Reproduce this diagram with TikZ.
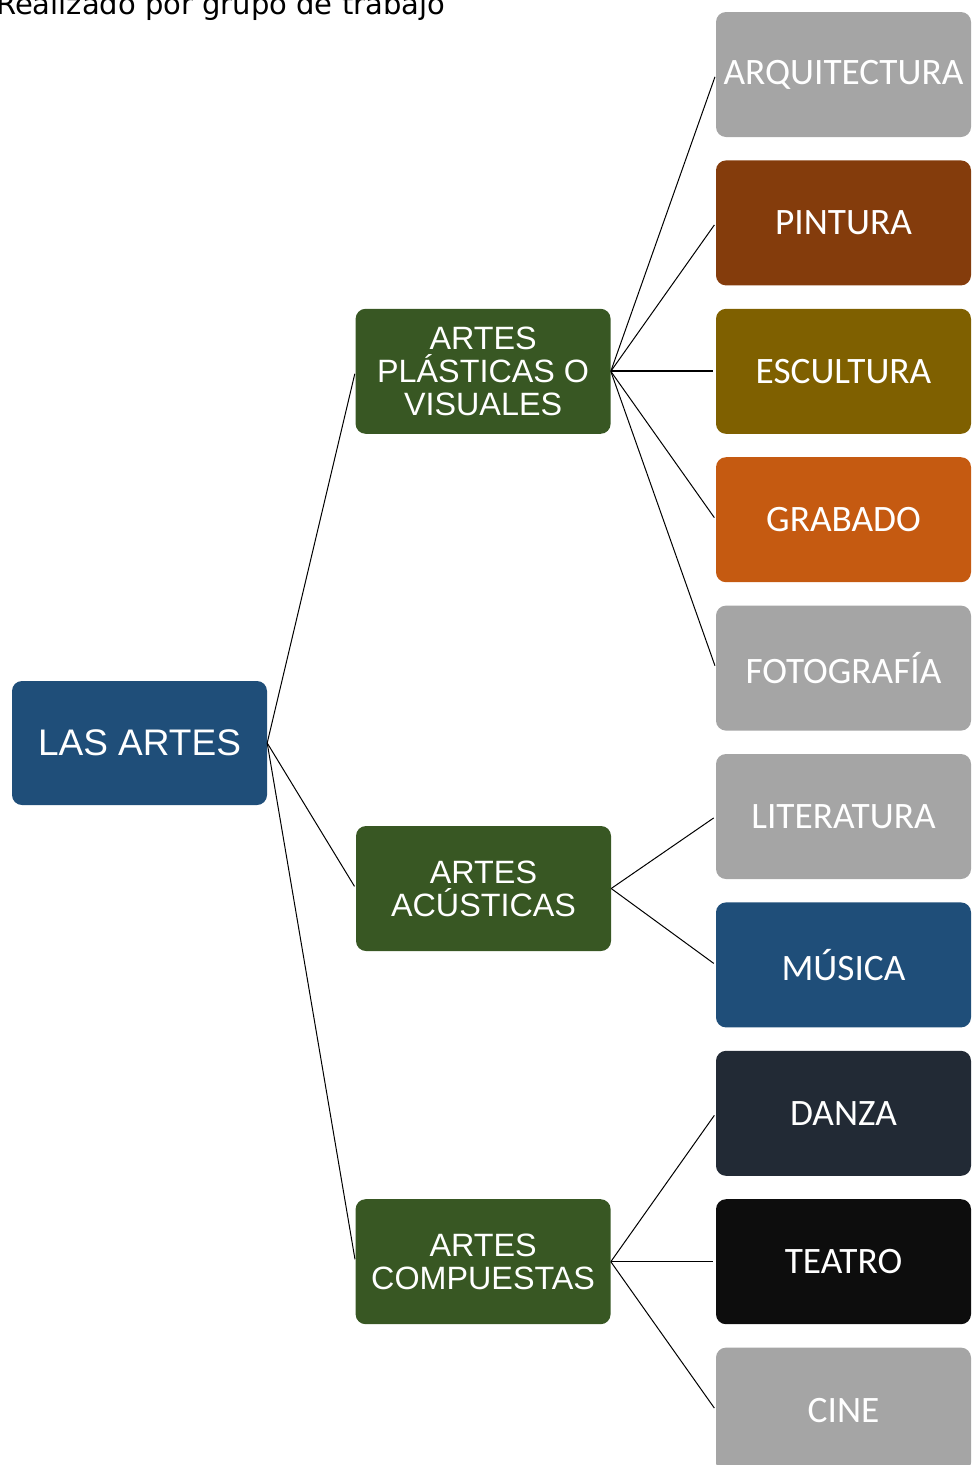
\documentclass[tikz,border=0pt]{standalone}
\usepackage{fontspec}
\setmainfont{Liberation Sans}
\newfontfamily\leaffont{Carlito}
\newfontfamily\notefont{DejaVu Sans}
\usetikzlibrary{positioning}

\definecolor{rootblue}{HTML}{1F4E79}
\definecolor{groupgreen}{HTML}{385723}
\definecolor{artgray}{HTML}{A5A5A5}
\definecolor{pinturabrown}{HTML}{843C0C}
\definecolor{esculturaolive}{HTML}{7F6000}
\definecolor{grabadoorange}{HTML}{C55A11}
\definecolor{danzaslate}{HTML}{222A35}
\definecolor{teatroblack}{HTML}{0D0D0D}

\begin{document}
\begin{tikzpicture}[x=1pt,y=-1pt,
        artbox/.style={rectangle, rounded corners=10pt, minimum width=255pt, minimum height=125pt, inner sep=0pt, text=white, align=center},
        rootnode/.style={artbox, fill=rootblue, minimum height=124pt, font=\fontsize{37}{43}\selectfont},
        groupnode/.style={artbox, fill=groupgreen, font=\fontsize{32.3}{33}\selectfont},
        leafnode/.style={artbox, font=\leaffont\fontsize{37.3}{42}\selectfont},
        link/.style={draw=black, line width=1pt, shorten >=2.5pt},
    ]
    \useasboundingbox (0,0) rectangle (973,1465);

    \node[anchor=base west, inner sep=0pt, font=\notefont\fontsize{29}{34}\selectfont] (note) at (-4,14) {Realizado por grupo de trabajo};

    % right column
    \node[leafnode, fill=artgray] (arquitectura) at (843.5,74.5) {ARQUITECTURA};
    \node[leafnode, fill=pinturabrown,   below=23pt of arquitectura] (pintura)    {PINTURA};
    \node[leafnode, fill=esculturaolive, below=23pt of pintura]      (escultura)  {ESCULTURA};
    \node[leafnode, fill=grabadoorange,  below=23pt of escultura]    (grabado)    {GRABADO};
    \node[leafnode, fill=artgray,        below=23pt of grabado]      (fotografia) {FOTOGRAFÍA};
    \node[leafnode, fill=artgray,        below=23pt of fotografia]   (literatura) {LITERATURA};
    \node[leafnode, fill=rootblue,       below=23pt of literatura]   (musica)     {MÚSICA};
    \node[leafnode, fill=danzaslate,     below=23pt of musica]       (danza)      {DANZA};
    \node[leafnode, fill=teatroblack,    below=23pt of danza]        (teatro)     {TEATRO};
    \node[leafnode, fill=artgray,        below=23pt of teatro]       (cine)       {CINE};

    % groups
    \node[groupnode, left=105pt of escultura] (plasticas)  {ARTES\\PLÁSTICAS O\\VISUALES};
    \node[groupnode] (acusticas) at (483.5,888.5)          {ARTES\\ACÚSTICAS};
    \node[groupnode, left=105pt of teatro]    (compuestas) {ARTES\\COMPUESTAS};

    \node[rootnode] (artes) at (139.5,743) {LAS ARTES};

    \draw[link] (artes.east) -- (plasticas.west);
    \draw[link] (artes.east) -- (acusticas.west);
    \draw[link] (artes.east) -- (compuestas.west);

    \draw[link] (plasticas.east) -- (arquitectura.west);
    \draw[link] (plasticas.east) -- (pintura.west);
    \draw[link, line width=2pt] (plasticas.east) -- (escultura.west);
    \draw[link] (plasticas.east) -- (grabado.west);
    \draw[link] (plasticas.east) -- (fotografia.west);

    \draw[link] (acusticas.east) -- (literatura.west);
    \draw[link] (acusticas.east) -- (musica.west);

    \draw[link] (compuestas.east) -- (danza.west);
    \draw[link] (compuestas.east) -- (teatro.west);
    \draw[link] (compuestas.east) -- (cine.west);
\end{tikzpicture}
\end{document}
